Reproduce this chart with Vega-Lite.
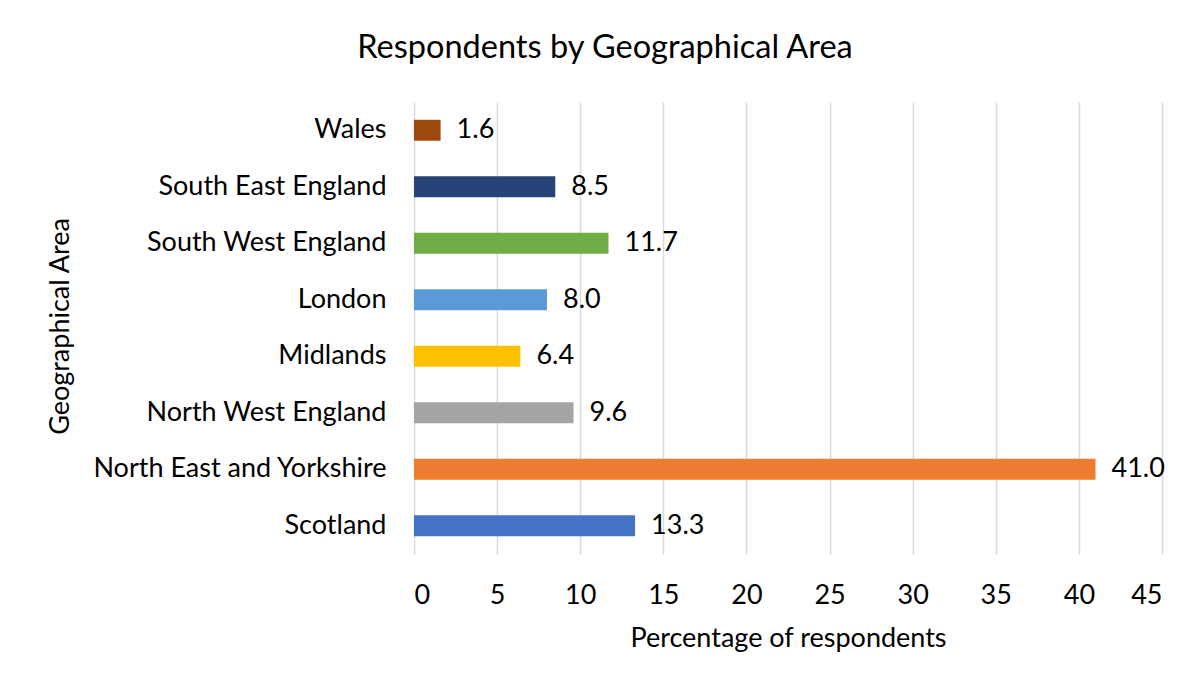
{
  "$schema": "https://vega.github.io/schema/vega-lite/v6.json",
  "width": 748,
  "height": 452,
  "autosize": {"type": "none"},
  "padding": {"left": 414, "top": 102, "right": 41, "bottom": 127},
  "background": "white",
  "config": {
    "font": "Lato",
    "view": {"stroke": null},
    "axis": {"labelFont": "Lato", "titleFont": "Lato", "labelColor": "#000000", "titleColor": "#000000", "titleFontWeight": "normal"}
  },
  "title": {
    "text": "Respondents by Geographical Area",
    "font": "Lato",
    "fontSize": 32.5,
    "fontWeight": "normal",
    "color": "#000000",
    "anchor": "middle",
    "dx": -183,
    "baseline": "alphabetic",
    "offset": 12
  },
  "data": {
    "values": [
      {"area": "Wales\u00a0", "pct": 1.6, "color": "#9E480E"},
      {"area": "South East England", "pct": 8.5, "color": "#264478"},
      {"area": "South West England", "pct": 11.7, "color": "#70AD47"},
      {"area": "London", "pct": 8.0, "color": "#5B9BD5"},
      {"area": "Midlands", "pct": 6.4, "color": "#FFC000"},
      {"area": "North West England", "pct": 9.6, "color": "#A5A5A5"},
      {"area": "North East and Yorkshire\u00a0", "pct": 41.0, "color": "#ED7D31"},
      {"area": "Scotland", "pct": 13.3, "color": "#4472C4"}
    ]
  },
  "encoding": {
    "y": {
      "field": "area",
      "type": "nominal",
      "sort": null,
      "scale": {"paddingInner": 0.63, "paddingOuter": 0.315},
      "axis": {
        "title": "Geographical Area",
        "titleFontSize": 27,
        "titleX": -346,
        "titleY": 224,
        "titleAngle": -90,
        "titleBaseline": "alphabetic",
        "titleAlign": "center",
        "labelFontSize": 27,
        "labelPadding": 28,
        "labelLimit": 0,
        "ticks": false,
        "domain": false,
        "grid": false
      }
    },
    "x": {
      "field": "pct",
      "type": "quantitative",
      "scale": {"domain": [0, 45], "nice": false},
      "axis": {
        "title": "Percentage of respondents",
        "titleFontSize": 27,
        "titleY": 92,
        "titleBaseline": "alphabetic",
        "values": [0, 5, 10, 15, 20, 25, 30, 35, 40, 45],
        "labelFontSize": 27,
        "labelPadding": 28,
        "labelBaseline": "top",
        "ticks": false,
        "domain": false,
        "grid": true,
        "gridColor": "#d9d9d9",
        "gridWidth": 1.5
      }
    }
  },
  "layer": [
    {
      "mark": {"type": "bar"},
      "encoding": {
        "color": {"field": "color", "type": "nominal", "scale": null, "legend": null}
      }
    },
    {
      "mark": {"type": "text", "align": "left", "baseline": "middle", "dx": 16, "fontSize": 27, "font": "Lato", "color": "#000000"},
      "encoding": {
        "text": {"field": "pct", "type": "quantitative", "format": ".1f"}
      }
    }
  ]
}
